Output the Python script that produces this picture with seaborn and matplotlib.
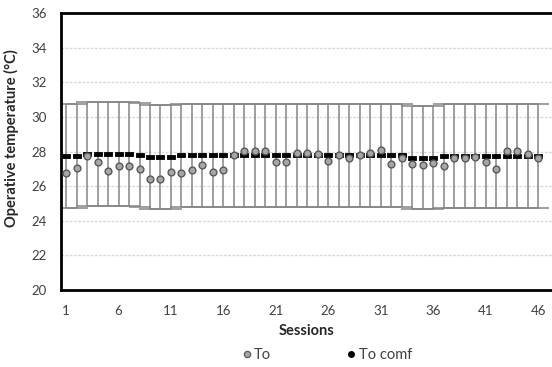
import numpy as np
import pandas as pd
import matplotlib
matplotlib.use("Agg")
import matplotlib.pyplot as plt
import seaborn as sns

sessions = list(range(1, 47))
to_values = [26.76, 27.07, 27.72, 27.40, 26.87, 27.15, 27.15, 26.97, 26.39, 26.39,
             26.82, 26.76, 26.92, 27.21, 26.82, 26.96, 27.83, 28.02, 28.02, 28.02,
             27.40, 27.40, 27.94, 27.94, 27.88, 27.44, 27.83, 27.65, 27.80, 27.92,
             28.11, 27.26, 27.65, 27.26, 27.21, 27.34, 27.15, 27.65, 27.65, 27.69,
             27.40, 26.97, 28.03, 28.03, 27.88, 27.65]
to_comf = ([27.75] * 2 + [27.85] * 5 + [27.80] + [27.70] * 3 + [27.78] * 22
           + [27.66] * 3 + [27.75] * 10)
comf_band = [3.0] * 46
x_ticks = [1, 6, 11, 16, 21, 26, 31, 36, 41, 46]
y_ticks = [20, 22, 24, 26, 28, 30, 32, 34, 36]

df = pd.DataFrame({"Session": sessions, "To": to_values, "To comf": to_comf})

sns.set_style("white")
plt.rcParams["font.family"] = ["Lato", "DejaVu Sans"]

fig = plt.figure(figsize=(5.52, 3.67), dpi=100)
ax = fig.add_axes([0.1105, 0.2098, 0.8895, 0.754])

# grid
for y in y_ticks[1:-1]:
    ax.axhline(y, color="#d9d9d9", lw=1.0, ls=(0, (2, 1)), zorder=0)

ax.errorbar(df["Session"], df["To comf"], yerr=comf_band, fmt="none",
            ecolor="#858585", elinewidth=1.1, capsize=7.8, capthick=1.1, zorder=1)

rect = [(-1, -0.6), (1, -0.6), (1, 0.6), (-1, 0.6), (-1, -0.6)]
sns.scatterplot(data=df, x="Session", y="To comf", marker=rect, s=26,
                color="black", edgecolor="black", linewidth=0.6, ax=ax, zorder=3,
                legend=False)
sns.scatterplot(data=df, x="Session", y="To", marker="o", s=24,
                color="#a6a6a6", edgecolor="#595959", linewidth=1.0, ax=ax, zorder=4,
                legend=False)

ax.set_xlim(0.52, 47.3)
ax.set_ylim(20, 36)
ax.set_xticks(x_ticks)
ax.set_yticks(y_ticks)
ax.tick_params(axis="both", length=0, labelsize=9.5, colors="#404040")
ax.tick_params(axis="y", pad=10)
ax.tick_params(axis="x", pad=11)

for s in ["left", "bottom", "top"]:
    ax.spines[s].set_visible(True)
    ax.spines[s].set_color("black")
    ax.spines[s].set_linewidth(2.0)
ax.spines["right"].set_visible(False)

ax.set_xlabel("Sessions", fontsize=10.5, fontweight="bold", color="#262626", labelpad=5)
ax.set_ylabel("Operative temperature (°C)", fontsize=10.5, fontweight="bold", color="#262626")
ax.yaxis.set_label_coords(-0.085, 0.55)

h1 = plt.Line2D([], [], marker="o", ls="none", markersize=4.5, markerfacecolor="#a6a6a6",
                markeredgecolor="#595959", markeredgewidth=0.9)
h2 = plt.Line2D([], [], marker="o", ls="none", markersize=4, markerfacecolor="black",
                markeredgecolor="black")
fig.legend([h1, h2], ["To", "To comf"], loc="center", bbox_to_anchor=(0.59, 0.033),
           ncol=2, frameon=False, fontsize=10.5, handletextpad=0.0, columnspacing=5.0,
           handlelength=1.0, labelcolor="#404040")

fig.savefig("out.png", dpi=100)
